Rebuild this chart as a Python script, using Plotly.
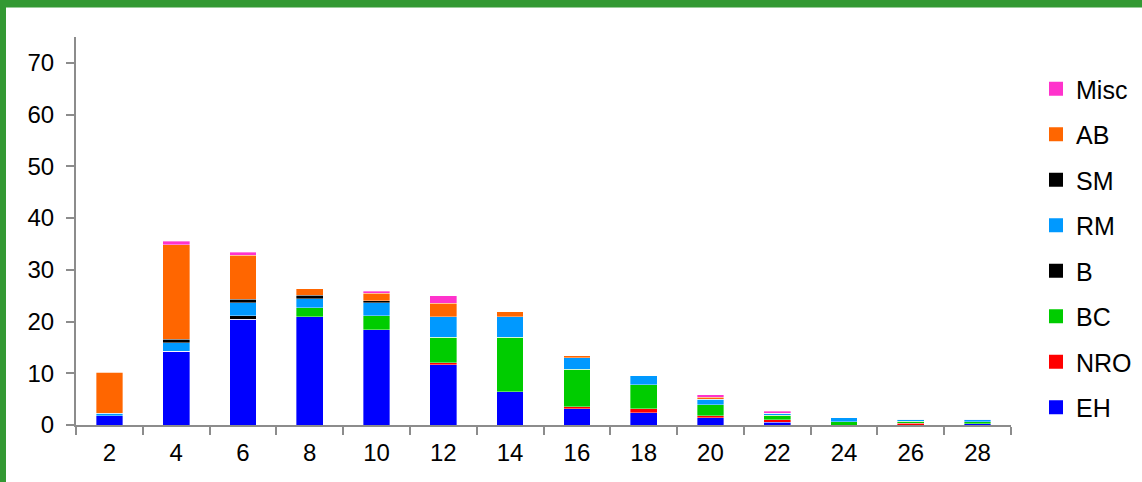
import plotly.graph_objects as go

# Stacked composition by class (x = size class)
categories = ["2", "4", "6", "8", "10", "12", "14", "16", "18", "20", "22", "24", "26", "28"]

EH   = [1.8, 14.25, 20.4, 20.95, 18.4, 11.6, 6.45, 3.1, 2.4, 1.4, 0.5, 0, 0, 0.25]
NRO  = [0, 0, 0, 0, 0, 0.45, 0, 0.45, 0.7, 0.4, 0.5, 0, 0.35, 0]
BC   = [0, 0, 0, 1.75, 2.7, 4.9, 10.5, 7.25, 4.7, 2.1, 0.9, 0.65, 0.4, 0.4]
B    = [0, 0, 0.75, 0, 0, 0, 0, 0, 0, 0, 0, 0, 0, 0]
RM   = [0.5, 1.65, 2.5, 1.7, 2.5, 4.0, 3.95, 2.2, 1.75, 1.1, 0.35, 0.8, 0.4, 0.45]
SM   = [0, 0.7, 0.7, 0.7, 0.4, 0, 0, 0, 0, 0, 0, 0, 0, 0]
AB   = [7.9, 18.2, 8.5, 1.2, 1.5, 2.55, 1.0, 0.4, 0, 0.35, 0, 0, 0, 0]
Misc = [0, 0.7, 0.5, 0, 0.4, 1.5, 0, 0, 0, 0.45, 0.4, 0, 0, 0]

series = [
    ("EH", EH, "#0000FF"),
    ("NRO", NRO, "#FF0000"),
    ("BC", BC, "#00CC00"),
    ("B", B, "#000000"),
    ("RM", RM, "#0099FF"),
    ("SM", SM, "#000000"),
    ("AB", AB, "#FF6600"),
    ("Misc", Misc, "#FF33CC"),
]

fig = go.Figure()
for name, vals, color in series:
    fig.add_trace(go.Bar(
        x=categories, y=vals, name=name, legendgroup=name, showlegend=False,
        marker=dict(color=color, line=dict(width=0.6, color="rgba(255,255,255,0.6)")),
    ))

# legend entries with larger square swatches, listed top-down from Misc to EH
for name, vals, color in reversed(series):
    fig.add_trace(go.Scatter(
        x=[None], y=[None], mode="markers", name=name, legendgroup=name,
        marker=dict(symbol="square", size=14, color=color),
    ))

W, H = 1142, 482
ml, mr, mt, mb = 76, 131, 37, 57
pw, ph = W - ml - mr, H - mt - mb

def px_x(p):
    return (p - ml) / pw

def px_y(p):
    return (H - mb - p) / ph

font = "Liberation Sans, Arial, sans-serif"
axis_grey = "#8C8C8C"

fig.update_layout(
    width=W, height=H,
    margin=dict(l=ml, r=mr, t=mt, b=mb, pad=0, autoexpand=False),
    barmode="stack",
    bargap=0.6,
    plot_bgcolor="white",
    paper_bgcolor="white",
    font=dict(family=font, size=24, color="black"),
    xaxis=dict(
        type="category", showgrid=False, zeroline=False,
        showline=True, linecolor=axis_grey, linewidth=2,
        ticks="outside", tickson="boundaries", ticklen=8, tickwidth=2, tickcolor=axis_grey,
        tickfont=dict(size=24), ticklabelstandoff=5,
    ),
    yaxis=dict(
        range=[0, 75], tickvals=[0, 10, 20, 30, 40, 50, 60, 70],
        showgrid=False, zeroline=False,
        showline=True, linecolor=axis_grey, linewidth=2,
        ticks="outside", ticklen=8, tickwidth=2, tickcolor=axis_grey,
        tickfont=dict(size=24), ticklabelstandoff=7,
    ),
    legend=dict(
        x=px_x(1036), y=px_y(66), xanchor="left", yanchor="top",
        traceorder="grouped", tracegroupgap=10, itemsizing="trace",
        font=dict(size=25), bgcolor="rgba(0,0,0,0)",
    ),
    showlegend=True,
    shapes=[
        # green frame along the top and left edges of the chart
        dict(type="rect", xref="paper", yref="paper",
             x0=px_x(0), x1=px_x(W), y0=px_y(7.5), y1=px_y(0),
             fillcolor="#339933", line=dict(width=0), layer="above"),
        dict(type="rect", xref="paper", yref="paper",
             x0=px_x(0), x1=px_x(6), y0=px_y(H), y1=px_y(0),
             fillcolor="#339933", line=dict(width=0), layer="above"),
    ],
)

fig.write_html("out.html")
